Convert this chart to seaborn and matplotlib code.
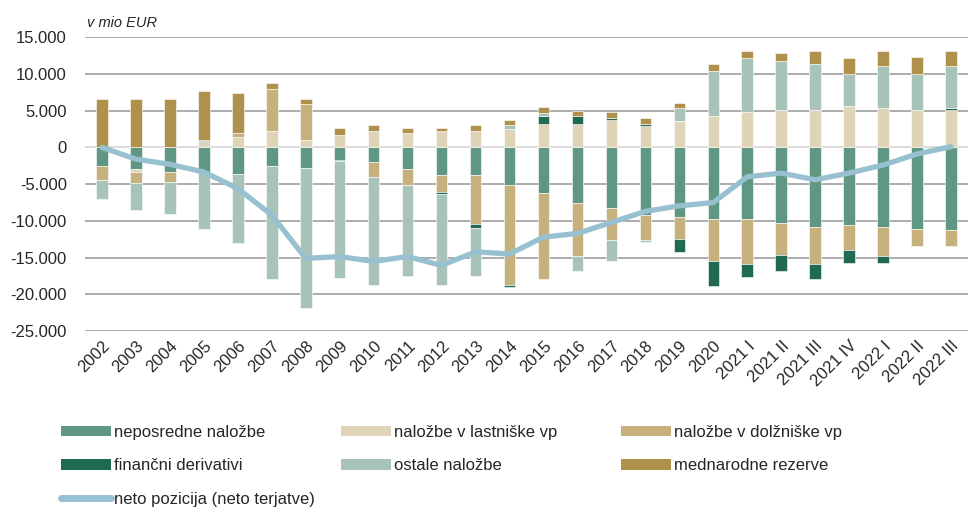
import numpy as np
import matplotlib
matplotlib.use("Agg")
import matplotlib.pyplot as plt
from matplotlib.patches import Patch
from matplotlib.lines import Line2D
import seaborn as sns

sns.set_style("white")
plt.rcParams['font.family'] = ['Liberation Sans', 'DejaVu Sans']

# kategorije
leta = ['2002', '2003', '2004', '2005', '2006', '2007', '2008', '2009', '2010',
        '2011', '2012', '2013', '2014', '2015', '2016', '2017', '2018', '2019',
        '2020', '2021 I', '2021 II', '2021 III', '2021 IV', '2022 I', '2022 II',
        '2022 III']

# podatki v mio EUR (odčitano z grafa)
neposredne = [-2500, -3000, -3300, -3350, -3600, -2500, -2750, -1700, -1950, -2900,
              -3700, -3700, -5150, -6150, -7500, -8200, -9250, -9400, -9700, -9700,
              -10300, -10850, -10500, -10850, -11050, -11300]
lastniske = [50, -350, 50, 850, 1400, 2200, 950, 1750, 2200, 2000,
             2250, 2250, 2450, 3150, 3150, 3750, 2950, 3550, 4300, 4800,
             5050, 5050, 5600, 5350, 5050, 5050]
dolzniske = [-1900, -1500, -1350, 0, 550, 5800, 4900, 0, -2100, -2150,
             -2400, -6700, -13550, -11750, -7250, -4450, -3300, -3000, -5800, -6100,
             -4400, -4950, -3450, -3950, -2350, -2100]
derivativi = [0, 0, 0, 150, 0, 0, 0, -200, 0, 0,
              -200, -550, -250, 1050, 1050, 200, 250, -1800, -3400, -1800,
              -2050, -2050, -1750, -950, 0, 250]
ostale = [-2600, -3700, -4450, -7800, -9400, -15400, -19050, -15800, -14700, -12400,
          -12400, -6500, 550, 500, -2100, -2850, -300, 1750, 6050, 7300,
          6750, 6250, 4400, 5700, 4950, 5750]
rezerve = [6550, 6600, 6550, 6650, 5500, 800, 700, 950, 800, 700,
           450, 750, 750, 850, 800, 800, 800, 800, 1000, 1050,
           1000, 1800, 2100, 2100, 2350, 2100]
neto = [0, -1600, -2300, -3350, -5600, -9200, -15100, -14850, -15500, -14850,
        -16050, -14200, -14500, -12200, -11700, -10200, -8700, -7950, -7500, -4000,
        -3500, -4400, -3500, -2400, -900, 100]

serije = [
    ('neposredne naložbe', neposredne, '#5F9783'),
    ('naložbe v lastniške vp', lastniske, '#DFD4B8'),
    ('naložbe v dolžniške vp', dolzniske, '#C6B07E'),
    ('finančni derivativi', derivativi, '#1F6A50'),
    ('ostale naložbe', ostale, '#A8C4B9'),
    ('mednarodne rezerve', rezerve, '#AF914C'),
]
barva_neto = '#97C0D0'

fig = plt.figure(figsize=(9.68, 5.08), dpi=100)
ax = fig.add_axes([0.0878, 0.348, 0.9122, 0.579])

pos_cum = np.zeros(len(leta))
neg_cum = np.zeros(len(leta))
for ime, vals, barva in serije:
    v = np.array(vals, dtype=float)
    spodaj = np.where(v >= 0, pos_cum, neg_cum)
    sns.barplot(x=leta, y=v, bottom=spodaj, color=barva, saturation=1,
                width=0.34, errorbar=None, edgecolor='white', linewidth=0.4,
                ax=ax, zorder=2)
    pos_cum = pos_cum + np.where(v >= 0, v, 0)
    neg_cum = neg_cum + np.where(v < 0, v, 0)

sns.lineplot(x=np.arange(len(leta)), y=neto, color=barva_neto, linewidth=3.8,
             ax=ax, zorder=3, solid_capstyle='round')

ax.set_xlim(-0.5, len(leta) - 0.5)
ax.set_ylim(-25000, 15000)
ax.set_yticks(np.arange(-25000, 15001, 5000))
ax.set_yticklabels([f'{t:,}'.replace(',', '.') for t in range(-25000, 15001, 5000)],
                   fontsize=12)
for t in range(-25000, 15001, 5000):
    ax.axhline(t, color='#D9D9D9' if t == 0 else '#A6A6A6', lw=1.3, zorder=1)
ax.set_xticks(range(len(leta)))
ax.set_xticklabels(leta, rotation=45, ha='right', rotation_mode='anchor', fontsize=12)
ax.tick_params(axis='x', length=0, pad=5)
ax.tick_params(axis='y', length=0, pad=13)
ax.set_xlabel('')
ax.set_ylabel('')
for s in ax.spines.values():
    s.set_visible(False)

fig.text(0.09, 0.947, 'v mio EUR', fontsize=10.5, style='italic')

# legenda v treh stolpcih
def rocaj(i):
    return Patch(facecolor=serije[i][2], edgecolor='none', label=serije[i][0])

stolpci = [
    [rocaj(0), rocaj(3),
     Line2D([], [], color=barva_neto, lw=5, solid_capstyle='round',
            label='neto pozicija (neto terjatve)')],
    [rocaj(1), rocaj(4)],
    [rocaj(2), rocaj(5)],
]
for k, h in enumerate(stolpci):
    fig.legend(handles=h, loc='upper left',
               bbox_to_anchor=((61 + 280 * k) / 968, 1 - 425 / 508),
               frameon=False, fontsize=12, handlelength=3.0, handleheight=0.6,
               handletextpad=0.15, labelspacing=1.1, borderpad=0, borderaxespad=0)

fig.savefig('out.png', dpi=100)
